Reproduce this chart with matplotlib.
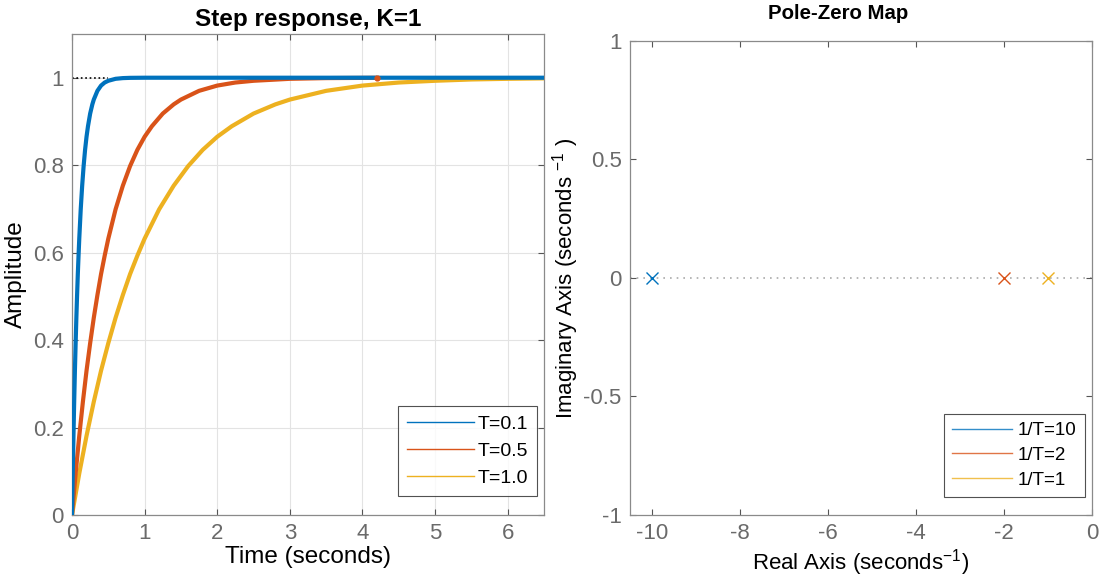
import matplotlib
matplotlib.use("Agg")
import matplotlib.pyplot as plt

plt.rcParams['font.family'] = ['Liberation Sans', 'DejaVu Sans']
plt.rcParams['mathtext.fontset'] = 'custom'
plt.rcParams['mathtext.rm'] = 'Liberation Sans'
plt.rcParams['mathtext.default'] = 'regular'

# step response values
t1 = [0, 0.005, 0.01, 0.02, 0.03, 0.04, 0.05, 0.06, 0.07, 0.08, 0.09, 0.1, 0.12, 0.14, 0.16, 0.18, 0.2,
      0.22, 0.25, 0.28, 0.3, 0.35, 0.4, 0.45, 0.5, 0.6, 0.7, 0.8, 1.0, 6.5]
y1 = [0, 0.049, 0.095, 0.181, 0.259, 0.330, 0.393, 0.451, 0.503, 0.551, 0.593, 0.632, 0.699, 0.753, 0.798,
      0.835, 0.865, 0.889, 0.918, 0.939, 0.950, 0.970, 0.982, 0.989, 0.993, 0.9975, 0.9991, 0.9997, 1.0, 1.0]
t2 = [0, 0.05, 0.1, 0.15, 0.2, 0.25, 0.3, 0.35, 0.4, 0.45, 0.5, 0.6, 0.7, 0.8, 0.9, 1.0, 1.1, 1.25, 1.4,
      1.5, 1.75, 2.0, 2.25, 2.5, 3.0, 3.5, 4.2]
y2 = [0, 0.095, 0.181, 0.259, 0.330, 0.393, 0.451, 0.503, 0.551, 0.593, 0.632, 0.699, 0.753, 0.798, 0.835,
      0.865, 0.889, 0.918, 0.939, 0.950, 0.970, 0.982, 0.989, 0.993, 0.9975, 0.9991, 0.9998]
t3 = [0, 0.1, 0.2, 0.3, 0.4, 0.5, 0.6, 0.7, 0.8, 0.9, 1.0, 1.2, 1.4, 1.6, 1.8, 2.0, 2.2, 2.5, 2.8, 3.0,
      3.5, 4.0, 4.5, 5.0, 5.5, 6.0, 6.5]
y3 = [0, 0.095, 0.181, 0.259, 0.330, 0.393, 0.451, 0.503, 0.551, 0.593, 0.632, 0.699, 0.753, 0.798, 0.835,
      0.865, 0.889, 0.918, 0.939, 0.950, 0.970, 0.982, 0.989, 0.993, 0.996, 0.9975, 0.9985]
step_labels = ['T=0.1', 'T=0.5', 'T=1.0']

# poles
pole_re = [-10, -2, -1]
pole_im = [0, 0, 0]
pole_labels = ['1/T=10', '1/T=2', '1/T=1']

colors = ['#0072BD', '#D95319', '#EDB120']
gray = '#555555'

fig = plt.figure(figsize=(11.01, 5.85), dpi=100)
ax1 = fig.add_axes([0.0654, 0.1197, 0.4287, 0.8222])
ax2 = fig.add_axes([0.5722, 0.1197, 0.4196, 0.8103])

# left: step response
ax1.plot([0, 0.5], [1, 1], ':', color='black', lw=1.2, zorder=2)
ax1.plot(t3, y3, color=colors[2], lw=3, solid_capstyle='butt', zorder=3)
ax1.plot(t2, y2, color=colors[1], lw=3, solid_capstyle='butt', zorder=4)
ax1.plot(t1, y1, color=colors[0], lw=3, solid_capstyle='butt', zorder=5)
ax1.plot([4.2], [1.0], 'o', color=colors[1], ms=3.5, zorder=6)
ax1.set_xlim(0, 6.5)
ax1.set_ylim(0, 1.1)
ax1.set_xticks([0, 1, 2, 3, 4, 5, 6])
ax1.set_yticks([0, 0.2, 0.4, 0.6, 0.8, 1])
ax1.set_yticklabels(['0', '0.2', '0.4', '0.6', '0.8', '1'])
ax1.grid(True, color='#e3e3e3', lw=0.8)
ax1.set_axisbelow(True)
ax1.set_title('Step response, K=1', fontsize=17.5, fontweight='bold', pad=6)
ax1.set_xlabel('Time (seconds)', fontsize=17.5, labelpad=1)
ax1.set_ylabel('Amplitude', fontsize=17.5, labelpad=4)
h = [plt.Line2D([], [], color=c, lw=1) for c in colors]
leg1 = ax1.legend(h, step_labels, loc='lower right', bbox_to_anchor=(0.985, 0.0395),
                  fontsize=14, frameon=True, fancybox=False, edgecolor='#262626',
                  handlelength=3.45, handletextpad=0.2, borderaxespad=0,
                  labelspacing=0.5, borderpad=0.45)
leg1.get_frame().set_linewidth(0.8)

# right: pole-zero map
ax2.axhline(0, color='#aaaaaa', ls=(0, (1, 3)), lw=1.2, zorder=1)
for x, y, c in zip(pole_re, pole_im, colors):
    ax2.plot([x], [y], 'x', color=c, ms=8, mew=1.0, zorder=3)
ax2.set_xlim(-10.5, 0)
ax2.set_ylim(-1, 1)
ax2.set_xticks([-10, -8, -6, -4, -2, 0])
ax2.set_yticks([-1, -0.5, 0, 0.5, 1])
ax2.set_yticklabels(['-1', '-0.5', '0', '0.5', '1'])
ax2.set_xticklabels(['-10', '-8', '-6', '-4', '-2', '0'])
ax2.set_title('Pole-Zero Map', fontsize=14.7, fontweight='bold', pad=16, x=0.45)
ax2.set_xlabel('Real Axis (seconds$^{-1}$)', fontsize=16, labelpad=2)
ax2.set_ylabel('Imaginary Axis (seconds $^{-1}$ )', fontsize=16, labelpad=2)
h2 = [plt.Line2D([], [], color=c, lw=1, alpha=0.8) for c in colors]
leg2 = ax2.legend(h2, pole_labels, loc='lower right', bbox_to_anchor=(0.985, 0.038),
                  fontsize=13.5, frameon=True, fancybox=False, edgecolor='#262626',
                  handlelength=3.2, handletextpad=0.3, borderaxespad=0,
                  labelspacing=0.4, borderpad=0.45)
leg2.get_frame().set_linewidth(0.8)

for ax in (ax1, ax2):
    ax.tick_params(direction='in', top=True, right=True, length=4, width=0.8,
                   colors=gray, labelsize=16, pad=6)
    for s in ax.spines.values():
        s.set_color('#8a8a8a')
        s.set_linewidth(0.9)
    for lab in ax.get_xticklabels() + ax.get_yticklabels():
        lab.set_color('#6a6a6a')

fig.savefig('out.png', dpi=100)
